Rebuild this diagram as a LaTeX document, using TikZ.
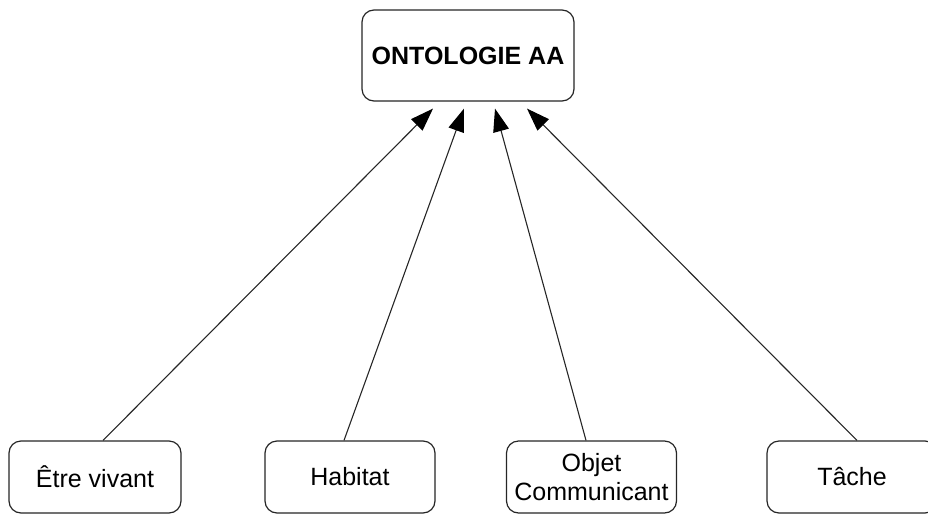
\documentclass[tikz,border=0pt]{standalone}
\usepackage{fontspec}
\setmainfont{Liberation Sans}
\usetikzlibrary{arrows.meta}
\begin{document}
\begin{tikzpicture}[x=1pt,y=-1pt,
  box/.style={draw=black!85,line width=1.2pt,rounded corners=12pt,fill=white,inner sep=0pt,align=center},
  conn/.style={draw=black!85,line width=1.1pt,-{Triangle[length=23pt,width=16pt,fill=black,color=black]}},
  lbl/.style={font=\fontsize{25}{29}\selectfont}]
\useasboundingbox (0,0) rectangle (928,514);
\node[box,minimum width=212pt,minimum height=91pt,font=\fontsize{25}{29}\selectfont\bfseries] (top) at (468,55.5) {ONTOLOGIE AA};
\node[box,lbl,minimum width=172pt,minimum height=72pt] (e1) at (95,477) {Être vivant};
\node[box,lbl,minimum width=170pt,minimum height=72pt] (e2) at (350,477) {Habitat};
\node[box,lbl,minimum width=170pt,minimum height=72pt] (e3) at (591.5,477) {Objet\\Communicant};
\node[box,lbl,minimum width=170pt,minimum height=72pt] (e4) at (852,477) {Tâche};
\coordinate (t1) at ([xshift=-35pt,yshift=-7pt]top.south);
\coordinate (t2) at ([xshift=-4pt,yshift=-7pt]top.south);
\coordinate (t3) at ([xshift=27pt,yshift=-7pt]top.south);
\coordinate (t4) at ([xshift=59pt,yshift=-7pt]top.south);
\draw[conn] ([xshift=8pt]e1.north) -- (t1);
\draw[conn] ([xshift=-6pt]e2.north) -- (t2);
\draw[conn] ([xshift=-5.5pt]e3.north) -- (t3);
\draw[conn] ([xshift=5pt]e4.north) -- (t4);
\end{tikzpicture}
\end{document}
